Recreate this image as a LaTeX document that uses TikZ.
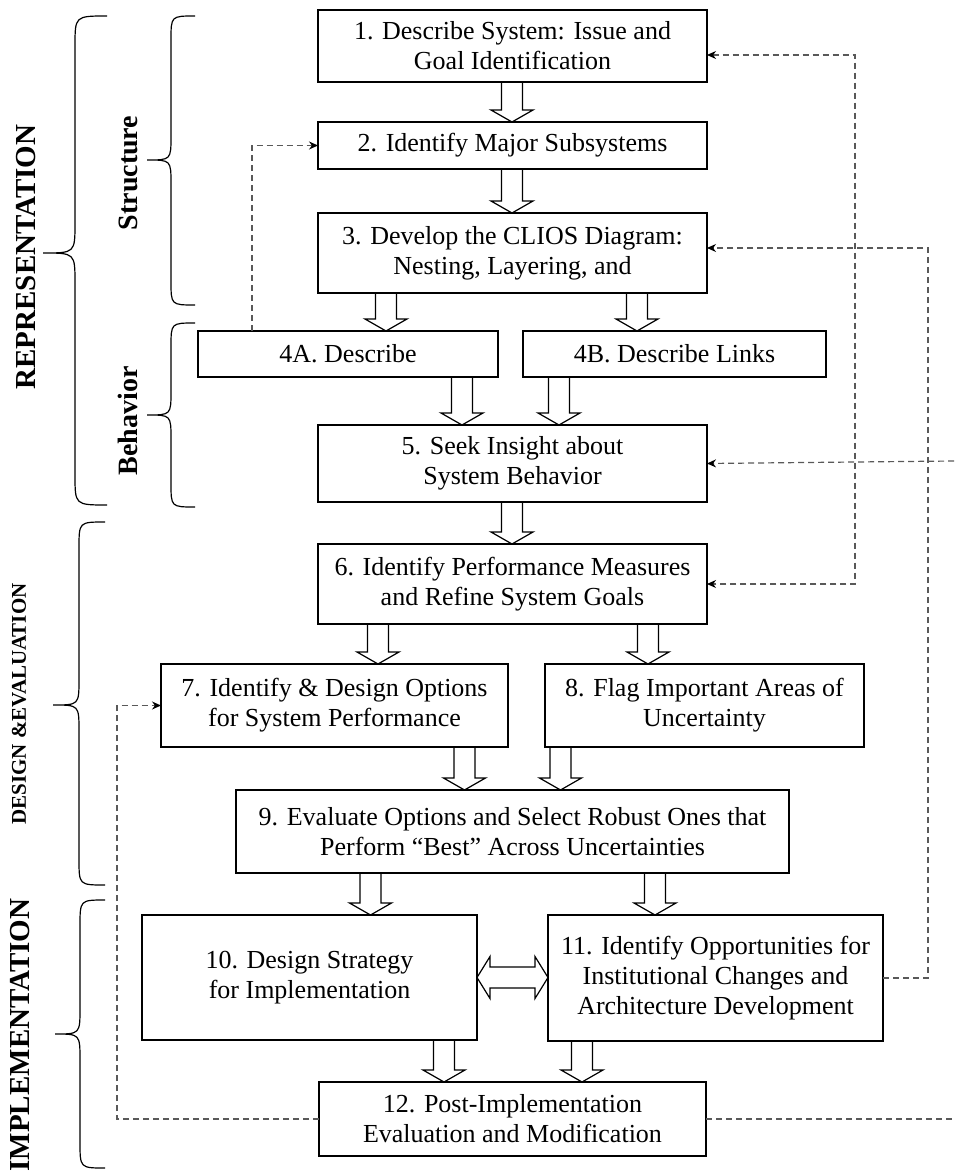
\documentclass[tikz,border=0pt]{standalone}
\usepackage{fontspec}
\setmainfont{Liberation Serif}
\usetikzlibrary{arrows.meta,calc}

\tikzset{
  stepbox/.style={draw, line width=0.6pt, inner sep=2pt, outer sep=0pt, align=center,
    font=\fontsize{13}{15}\selectfont},
  fat/.style={line width=0.6pt},
  tip/.style={Stealth[length=4.5pt,width=4pt,black]},
  fb/.style={line width=0.6pt, black!65, dash pattern=on 3pt off 2pt, -{Stealth[length=4.5pt,width=4pt,black]}},
  curly/.style={line width=0.6pt},
  side/.style={font=\bfseries\fontsize{14}{16}\selectfont, rotate=90},
}

% hollow block arrow going down at x = #1 from node #2 to node #3
\newcommand{\fatdown}[3]{%
  \draw[fat] let \p1=(#2.south), \p2=(#3.north), \p3=(#1,0) in
    (\x3-5.25pt,\y1) -- (\x3-5.25pt,\y2+6pt) -- (\x3-10.5pt,\y2+6pt) -- (\x3,\y2)
    -- (\x3+10.5pt,\y2+6pt) -- (\x3+5.25pt,\y2+6pt) -- (\x3+5.25pt,\y1);
}

% curly brace: #1 end x, #2 tip x, #3 top y, #4 tip y, #5 bottom y, #6 hook size
\newcommand{\phasebrace}[6]{%
  \draw[curly] (#1,#3) .. controls ({(#1+#2)/2},#3) .. ({(#1+#2)/2},#3+#6)
    -- ({(#1+#2)/2},#4-#6) .. controls ({(#1+#2)/2},#4) .. (#2,#4)
    .. controls ({(#1+#2)/2},#4) .. ({(#1+#2)/2},#4+#6)
    -- ({(#1+#2)/2},#5-#6) .. controls ({(#1+#2)/2},#5) .. (#1,#5);
}

\begin{document}
\begin{tikzpicture}[x=0.5pt, y=-0.5pt]
    \useasboundingbox (0,0) rectangle (954,1171);

    % Steps
    \node[stepbox, minimum width=194.5pt, minimum height=36pt] (s1) at (512.5,46)
        {1. Describe System: Issue and\\Goal Identification};
    \node[stepbox, minimum width=194.5pt, minimum height=23.5pt] (s2) at (512.5,145.5)
        {2. Identify Major Subsystems};
    \node[stepbox, minimum width=194.5pt, minimum height=40pt] (s3) at (512.5,253)
        {3. Develop the CLIOS Diagram:\\Nesting, Layering, and};
    \node[stepbox, minimum width=150pt, minimum height=23pt] (s4a) at (348,354)
        {4A. Describe};
    \node[stepbox, minimum width=151.5pt, minimum height=23pt] (s4b) at (674.5,354)
        {4B. Describe Links};
    \node[stepbox, minimum width=194.5pt, minimum height=38.5pt] (s5) at (512.5,463.5)
        {5. Seek Insight about\\System Behavior};
    \node[stepbox, minimum width=194.5pt, minimum height=40pt] (s6) at (512.5,584)
        {6. Identify Performance Measures\\and Refine System Goals};
    \node[stepbox, minimum width=173.5pt, minimum height=41.5pt] (s7) at (334.5,705.5)
        {7. Identify \& Design Options\\for System Performance};
    \node[stepbox, minimum width=159.5pt, minimum height=41.5pt] (s8) at (704.5,705.5)
        {8. Flag Important Areas of\\Uncertainty};
    \node[stepbox, minimum width=276.5pt, minimum height=41.5pt] (s9) at (512.5,831.5)
        {9. Evaluate Options and Select Robust Ones that\\Perform “Best” Across Uncertainties};
    \node[stepbox, minimum width=167.5pt, minimum height=62.5pt] (s10) at (309.5,977.5)
        {10. Design Strategy\\for Implementation};
    \node[stepbox, minimum width=167.5pt, minimum height=63pt] (s11) at (715.5,978)
        {11. Identify Opportunities for\\Institutional Changes and\\Architecture Development};
    \node[stepbox, minimum width=193.5pt, minimum height=37pt] (s12) at (512.5,1119)
        {12. Post-Implementation\\Evaluation and Modification};

    % Block arrows
    \fatdown{512}{s1}{s2}
    \fatdown{512}{s2}{s3}
    \fatdown{386}{s3}{s4a}
    \fatdown{637}{s3}{s4b}
    \fatdown{462}{s4a}{s5}
    \fatdown{559}{s4b}{s5}
    \fatdown{512}{s5}{s6}
    \fatdown{378}{s6}{s7}
    \fatdown{648}{s6}{s8}
    \fatdown{464.5}{s7}{s9}
    \fatdown{560.5}{s8}{s9}
    \fatdown{370.5}{s9}{s10}
    \fatdown{655}{s9}{s11}
    \fatdown{444}{s10}{s12}
    \fatdown{582}{s11}{s12}
    \draw[fat] let \p1=(s10.east), \p2=(s11.west) in
        (\x1,\y1) -- (\x1+6.5pt,\y1+10.5pt) -- (\x1+6.5pt,\y1+5.25pt)
        -- (\x2-6.5pt,\y1+5.25pt) -- (\x2-6.5pt,\y1+10.5pt) -- (\x2,\y1)
        -- (\x2-6.5pt,\y1-10.5pt) -- (\x2-6.5pt,\y1-5.25pt)
        -- (\x1+6.5pt,\y1-5.25pt) -- (\x1+6.5pt,\y1-10.5pt) -- cycle;

    % Feedback loops
    \coordinate (edge5) at (954,461);
    \coordinate (edge12) at (954,1119);
    \draw[fb] ([xshift=27pt]s4a.north west) |- (s2.west);
    \draw[fb] (s12.west) -| ([xshift=-22pt]s7.west) -- (s7.west);
    \draw[fb, {Stealth[length=4.5pt,width=4pt,black]}-{Stealth[length=4.5pt,width=4pt,black]}]
        ([yshift=-4.5pt]s1.east) -| ([xshift=74pt]s6.east) -- (s6.east);
    \draw[fb] (s11.east) -| ([xshift=110.5pt,yshift=2.5pt]s3.east) -- ([yshift=2.5pt]s3.east);
    \draw[fb] (edge5) -- (s5.east);
    \draw[fb, -] (s12.east) -- (edge12);

    % Phases
    \phasebrace{107}{43}{16}{253}{505}{30}
    \phasebrace{195}{147}{16}{160}{305}{24}
    \phasebrace{195}{147}{323}{415}{507}{24}
    \phasebrace{105}{53}{522}{705}{885}{26}
    \phasebrace{105}{55}{900}{1034}{1168}{26}
    \node[side, font=\bfseries\fontsize{14.5}{16}\selectfont] (rep) at (26,257) {REPRESENTATION};
    \node[side] (str) at (128,173) {Structure};
    \node[side] (beh) at (128,421) {Behavior};
    \node[side, font=\bfseries\fontsize{10.5}{12}\selectfont] (des) at (19,704) {DESIGN \&EVALUATION};
    \node[side, font=\bfseries\fontsize{14.5}{16}\selectfont] (imp) at (20,1035) {IMPLEMENTATION};
\end{tikzpicture}
\end{document}
